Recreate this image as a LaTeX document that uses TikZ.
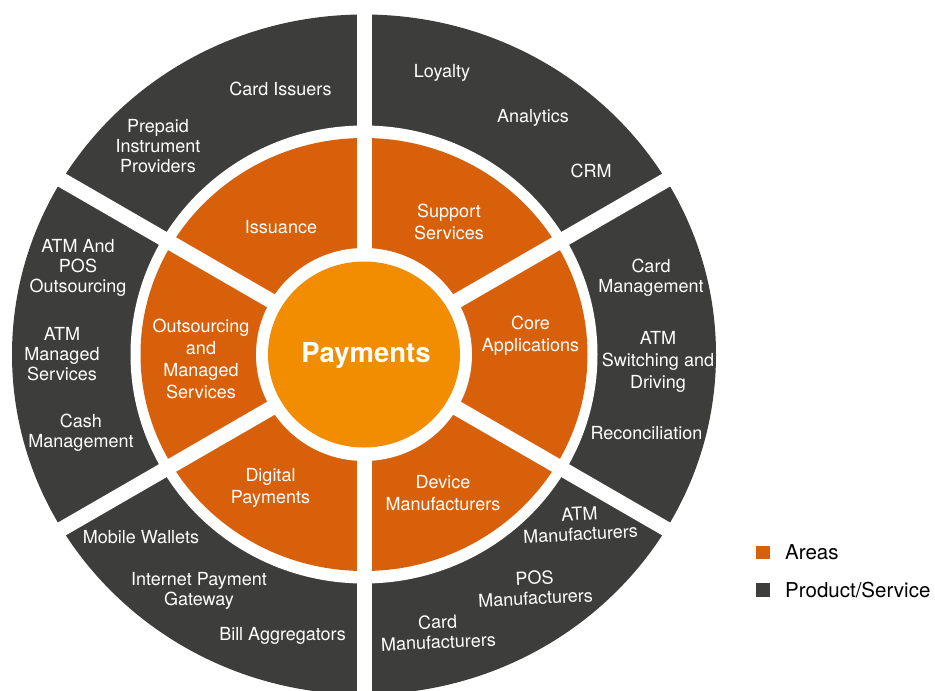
\documentclass[tikz,border=0pt]{standalone}
\usepackage{fontspec}
\setmainfont{TeX Gyre Heros}
\definecolor{darkseg}{RGB}{61,61,59}
\definecolor{areaorg}{RGB}{216,96,10}
\definecolor{centerorg}{RGB}{242,140,0}
\begin{document}
\begin{tikzpicture}[x=1pt,y=-1pt,
  outlbl/.style={text=white,align=center,inner sep=0pt,font=\fontsize{18}{20}\selectfont},
  inlbl/.style={text=white,align=center,inner sep=0pt,font=\fontsize{18}{22}\selectfont},
  legsq/.style={minimum width=14pt,minimum height=13.5pt,inner sep=0pt},
  legtxt/.style={anchor=west,inner sep=0pt,text=black,font=\fontsize{20.5}{24}\selectfont}]
\path[use as bounding box] (0,0) rectangle (935,691);
\coordinate (c) at (364,354.5);
\begin{scope}
\clip (0,0) rectangle (935,691);
\fill[darkseg] (c) ellipse [x radius=352, y radius=340];
\fill[white] (c) ellipse [x radius=233.5, y radius=229];
\fill[areaorg] (c) ellipse [x radius=223.5, y radius=216.5];
\fill[white] (c) ellipse [x radius=108, y radius=106.5];
\foreach \a in {30,90,150,210,270,330}
  \draw[white,line width=15pt] (c) -- ++(\a:420);
\fill[centerorg] (c) ellipse [x radius=96, y radius=93];
\end{scope}
% centre
\node[text=white,inner sep=0pt,font=\bfseries\fontsize{27.5}{30}\selectfont] (payments) at (366,355) {Payments};
% inner ring (areas)
\node[inlbl] (issuance) at (281,227) {Issuance};
\node[inlbl] (support) at (449,221.5) {Support\\Services};
\node[inlbl] (core) at (530.5,336) {Core\\Applications};
\node[inlbl] (outsourcing) at (201,358.5) {Outsourcing\\and\\Managed\\Services};
\node[inlbl] (digital) at (270.5,488) {Digital\\Payments};
\node[inlbl] (device) at (443,493.5) {Device\\Manufacturers};
% outer ring (products/services)
\node[outlbl] (cardiss) at (280.5,89) {Card Issuers};
\node[outlbl] (prepaid) at (158,146) {Prepaid\\Instrument\\Providers};
\node[outlbl] (loyalty) at (442,73) {Loyalty};
\node[outlbl] (analytics) at (533,118) {Analytics};
\node[outlbl] (crm) at (591,171) {CRM};
\node[outlbl] (cardmgmt) at (651,278) {Card\\Management};
\node[inlbl] (atmsw) at (658,361.5) {ATM\\Switching and\\Driving};
\node[outlbl] (recon) at (646.5,433) {Reconciliation};
\node[outlbl,rotate=3] (atmman) at (580,524) {ATM\\Manufacturers};
\node[outlbl,rotate=3] (posman) at (535,588) {POS\\Manufacturers};
\node[outlbl,rotate=2.5] (cardman) at (438,632) {Card\\Manufacturers};
\node[outlbl] (mobile) at (141,537) {Mobile Wallets};
\node[outlbl] (internet) at (199,591) {Internet Payment\\Gateway};
\node[outlbl] (bill) at (282.5,636) {Bill Aggregators};
\node[outlbl] (atmpos) at (78,268) {ATM And\\POS\\Outsourcing};
\node[outlbl] (atmmanaged) at (62,354) {ATM\\Managed\\Services};
\node[outlbl] (cash) at (81,433) {Cash\\Management};
% legend
\node[legsq,fill=areaorg] (legA) at (763,552.5) {};
\node[legtxt] (legAt) at (785,552.5) {Areas};
\node[legsq,fill=darkseg] (legP) at (763,590) {};
\node[legtxt] (legPt) at (785,590) {Product/Service};
\end{tikzpicture}
\end{document}
